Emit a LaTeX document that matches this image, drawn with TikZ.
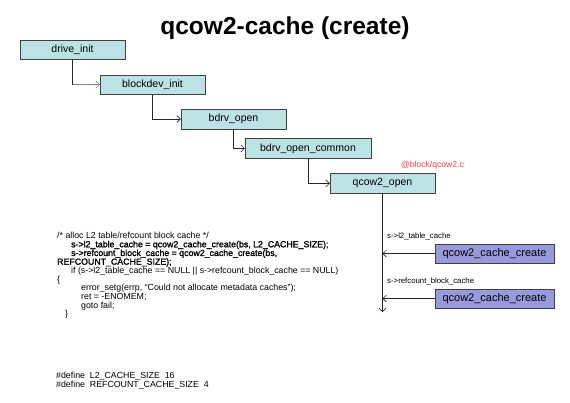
\documentclass[tikz,border=0pt]{standalone}
\usepackage{fontspec}
\setmainfont{Liberation Sans}
\newfontfamily\codebold[FakeBold=1.6]{Liberation Sans}
\usetikzlibrary{arrows.meta}
\definecolor{boxcyan}{RGB}{188,226,230}
\definecolor{boxpurple}{RGB}{153,153,221}
\definecolor{boxline}{RGB}{64,64,64}
\definecolor{srcred}{RGB}{255,64,64}

\begin{document}
\begin{tikzpicture}[x=1pt,y=-1pt,func/.style={
	rectangle,
	minimum width=105pt,
	minimum height=19.5pt,
	inner sep=0pt,
	draw=boxline,
	fill=boxcyan,
	font=\fontsize{10.5}{12}\selectfont
	},cachefn/.style={
	rectangle,minimum width=119pt,minimum height=19pt,inner sep=0pt,
	draw=boxline,fill=boxpurple,
	font=\fontsize{11}{13}\selectfont
	},call/.style={
	-{Straight Barb[length=3.5pt,width=7pt]},line width=0.6pt,draw=black!85
	},lbl/.style={
	inner sep=0pt,anchor=west,font=\fontsize{7.8}{9}\selectfont
	},code/.style={
	inner sep=0pt,anchor=north west,align=left,
	font=\fontsize{8.8}{8.7}\selectfont
	}
]
\fill[white] (0,0) rectangle (570,402);
\useasboundingbox (0,0) rectangle (570,402);

\node (title) [anchor=base,font=\fontsize{24.5}{28}\selectfont\bfseries] at (285,34.5) {qcow2-cache (create)};

% call chain
\node (drive_init) [func] at (72.5,49.6) {drive\_init};
\node (blockdev_init) [func] at (152.5,84.6) {blockdev\_init};
\node (bdrv_open) [func] at (233.5,119) {bdrv\_open};
\node (bdrv_open_common) [func,minimum width=126pt] at (308,148.3) {bdrv\_open\_common};
\node (qcow2_open) [func] at (382.5,183.3) {qcow2\_open};
\node (srcfile) [text=srcred,inner sep=0pt,font=\fontsize{8.6}{10}\selectfont] at (432.5,165.7) {@block/qcow2.c};

% caches
\node (cache_l2) [cachefn] at (494.5,253.5) {qcow2\_cache\_create};
\node (cache_rc) [cachefn] at (494.5,298.5) {qcow2\_cache\_create};
\node (lbl_l2) [lbl] at (387,236) {s->l2\_table\_cache};
\node (lbl_rc) [lbl] at (387,281) {s->refcount\_block\_cache};

\coordinate (bend1) at (drive_init.south |- blockdev_init.west);
\coordinate (qend) at (382.5,312);

\draw[line width=0.6pt,black!85] (drive_init.south) -- (bend1);
\draw[call,draw=gray] (bend1) -- (blockdev_init.west);
\draw[call] (blockdev_init.south) |- (bdrv_open.west);
\draw[call] (bdrv_open.south) |- (bdrv_open_common.west);
\draw[call] (bdrv_open_common.south) |- (qcow2_open.west);
\draw[call] (qcow2_open.south) -- (qend);
\draw[call] (cache_l2.west) -- (qcow2_open.south |- cache_l2.west);
\draw[call] (cache_rc.west) -- (qcow2_open.south |- cache_rc.west);

% source text
\node (src) [code] at (57,232) {/* alloc L2 table/refcount block cache */\\
\hspace*{14pt}{\codebold s->l2\_table\_cache = qcow2\_cache\_create(bs, L2\_CACHE\_SIZE);}\\
\hspace*{14pt}{\codebold s->refcount\_block\_cache = qcow2\_cache\_create(bs,}\\
{\codebold REFCOUNT\_CACHE\_SIZE);}\\
\hspace*{14pt}if (s->l2\_table\_cache == NULL || s->refcount\_block\_cache == NULL)\\
\{\\
\hspace*{24pt}error\_setg(errp, ``Could not allocate metadata caches'');\\
\hspace*{24pt}ret = -ENOMEM;\\
\hspace*{24pt}goto fail;\\
\hspace*{8pt}\}};

\node (defs) [code] at (56,372) {\#define\ \ L2\_CACHE\_SIZE\ \ 16\\
\#define\ \ REFCOUNT\_CACHE\_SIZE\ \ 4};

\end{tikzpicture}
\end{document}
